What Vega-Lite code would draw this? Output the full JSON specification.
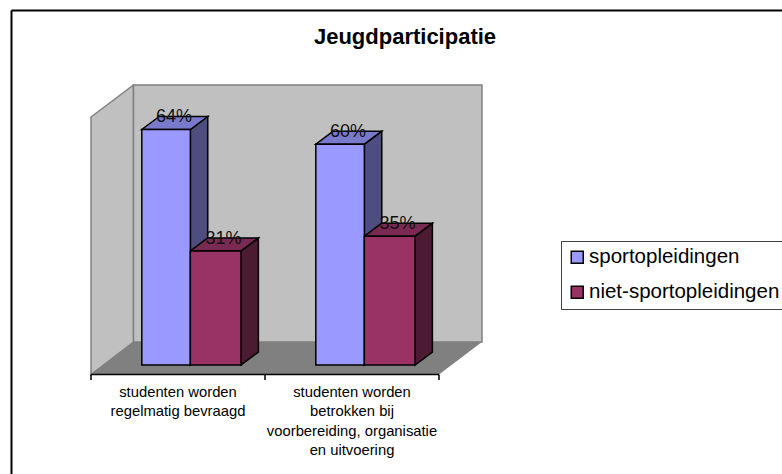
{"$schema":"https://vega.github.io/schema/vega-lite/v6.json","width":782,"height":474,"autosize":"none","padding":0,"background":"white",
"config":{"font":"Liberation Sans","view":{"stroke":null}},
"title":{"text":"Jeugdparticipatie","font":"Liberation Sans","fontSize":22,"fontWeight":"bold","color":"black","baseline":"alphabetic","dx":14,"dy":70},
"datasets":{"bars":[
{"vraag":"studenten worden|regelmatig bevraagd","reeks":"sportopleidingen","waarde":64},
{"vraag":"studenten worden|regelmatig bevraagd","reeks":"niet-sportopleidingen","waarde":31},
{"vraag":"studenten worden|betrokken bij|voorbereiding, organisatie|en uitvoering","reeks":"sportopleidingen","waarde":60},
{"vraag":"studenten worden|betrokken bij|voorbereiding, organisatie|en uitvoering","reeks":"niet-sportopleidingen","waarde":35}]},
"encoding":{"x":{"field":"px","type":"quantitative","axis":null,"scale":{"domain":[-0.52299,3.97126],"nice":false,"zero":false}},"y":{"field":"py","type":"quantitative","axis":null,"scale":{"domain":[-29.62,99.185],"nice":false,"zero":false}}},
"layer":[
{"data":{"values":[{"d":0},{"d":1}]},"transform":[{"calculate":"datum.d*0.2443","as":"px"},{"calculate":"-2.58+datum.d*8.83","as":"py"},{"calculate":"67.39+datum.d*8.7","as":"py2"}],
 "mark":{"type":"area","orient":"vertical","fill":"#C0C0C0","stroke":"#808080","strokeWidth":1.5},"encoding":{"y2":{"field":"py2"}}},
{"data":{"values":[{"d":0},{"d":1}]},"transform":[{"calculate":"0.2443+datum.d*2.0027","as":"px"},{"calculate":"6.25","as":"py"},{"calculate":"76.09","as":"py2"}],
 "mark":{"type":"area","orient":"vertical","fill":"#C0C0C0","stroke":"#808080","strokeWidth":1.5},"encoding":{"y2":{"field":"py2"}}},
{"data":{"values":[{"d":0},{"d":1}]},"transform":[{"calculate":"datum.d*0.2443","as":"px"},{"calculate":"2+datum.d*0.247","as":"px2"},{"calculate":"-2.58+datum.d*8.83","as":"py"}],
 "mark":{"type":"area","orient":"horizontal","fill":"#808080"},"encoding":{"x2":{"field":"px2"}}},
{"data":{"name":"bars"},"transform":[
  {"calculate":"indexof(datum.vraag,'bevraagd')>=0?0:1","as":"idx"},
  {"calculate":"datum.idx+(datum.reeks=='sportopleidingen'?0.292:0.571)","as":"x0"},
  {"calculate":"datum.idx+(datum.reeks=='sportopleidingen'?0.571:0.862)","as":"x1"},
  {"calculate":"[0,1]","as":"d"},{"flatten":["d"]},
  {"calculate":"datum.x1+datum.d*0.1","as":"px"},{"calculate":"datum.waarde+datum.d*3.53","as":"py"},{"calculate":"datum.d*3.53","as":"py2"}],
 "mark":{"type":"area","orient":"vertical","stroke":"black","strokeWidth":1.5},
 "encoding":{"y2":{"field":"py2"},"detail":{"field":"vraag"},"fill":{"field":"reeks","type":"nominal","legend":null,"scale":{"domain":["sportopleidingen","niet-sportopleidingen"],"range":["#4D4D80","#4D1A33"]}}}},
{"data":{"name":"bars"},"transform":[
  {"calculate":"indexof(datum.vraag,'bevraagd')>=0?0:1","as":"idx"},
  {"calculate":"datum.idx+(datum.reeks=='sportopleidingen'?0.292:0.571)","as":"x0"},
  {"calculate":"datum.idx+(datum.reeks=='sportopleidingen'?0.571:0.862)","as":"x1"},
  {"calculate":"[0,1]","as":"d"},{"flatten":["d"]},
  {"calculate":"datum.x0+datum.d*0.1","as":"px"},{"calculate":"datum.x1+datum.d*0.1","as":"px2"},{"calculate":"datum.waarde+datum.d*3.53","as":"py"}],
 "mark":{"type":"area","orient":"horizontal","stroke":"black","strokeWidth":1.5},
 "encoding":{"x2":{"field":"px2"},"detail":{"field":"vraag"},"fill":{"field":"reeks","type":"nominal","legend":null,"scale":{"domain":["sportopleidingen","niet-sportopleidingen"],"range":["#7A7ACC","#7A2952"]}}}},
{"data":{"name":"bars"},"transform":[
  {"calculate":"indexof(datum.vraag,'bevraagd')>=0?0:1","as":"idx"},
  {"calculate":"datum.idx+(datum.reeks=='sportopleidingen'?0.292:0.571)","as":"px"},
  {"calculate":"datum.idx+(datum.reeks=='sportopleidingen'?0.571:0.862)","as":"px2"},
  {"calculate":"datum.waarde","as":"py"},{"calculate":"0","as":"py2"}],
 "mark":{"type":"rect","stroke":"black","strokeWidth":1.5},
 "encoding":{"x2":{"field":"px2"},"y2":{"field":"py2"},"fill":{"field":"reeks","type":"nominal","scale":{"domain":["sportopleidingen","niet-sportopleidingen"],"range":["#9999FF","#993366"]},
   "legend":{"title":null,"orient":"none","legendX":561,"legendY":241,"padding":6,"strokeColor":"#404040","fillColor":"white","symbolType":"square","symbolSize":144,"symbolStrokeColor":"black","symbolStrokeWidth":1.5,"labelFont":"Liberation Sans","labelFontSize":20.5,"labelColor":"black","labelLimit":300,"labelOffset":1.5,"rowPadding":14}}}},
{"data":{"name":"bars"},"transform":[
  {"calculate":"indexof(datum.vraag,'bevraagd')>=0?0:1","as":"idx"},
  {"calculate":"datum.idx+(datum.reeks=='sportopleidingen'?0.4315:0.7165)+0.045","as":"px"},
  {"calculate":"datum.waarde+1.9","as":"py"},
  {"calculate":"format(datum.waarde/100,'.0%')","as":"lab"}],
 "mark":{"type":"text","fontSize":18,"color":"#111111","baseline":"alphabetic","align":"center"},"encoding":{"text":{"field":"lab"}}},
{"data":{"values":[{"t":0},{"t":1},{"t":2}]},"transform":[{"calculate":"datum.t","as":"px"},{"calculate":"-2.58","as":"py"},{"calculate":"-4.1","as":"py2"}],
 "mark":{"type":"rule","color":"black","strokeWidth":1.5},"encoding":{"y2":{"field":"py2"}}},
{"data":{"values":[{"d":0}]},"transform":[{"calculate":"0","as":"px"},{"calculate":"2","as":"px2"},{"calculate":"-2.58","as":"py"}],
 "mark":{"type":"rule","color":"black","strokeWidth":1.5},"encoding":{"x2":{"field":"px2"}}},
{"data":{"name":"bars"},"transform":[{"filter":"datum.reeks=='sportopleidingen'"},
  {"calculate":"(indexof(datum.vraag,'bevraagd')>=0?0:1)+0.5","as":"px"},{"calculate":"-5.45","as":"py"}],
 "mark":{"type":"text","fontSize":14.8,"color":"black","baseline":"top","align":"center","lineBreak":"|","lineHeight":19.3},"encoding":{"text":{"field":"vraag"}}},
{"data":{"values":[{"d":0}]},"transform":[{"calculate":"-0.4569","as":"px"},{"calculate":"96.33","as":"py"},{"calculate":"-29.62","as":"py2"}],
 "mark":{"type":"rule","color":"black","strokeWidth":2},"encoding":{"y2":{"field":"py2"}}},
{"data":{"values":[{"d":0}]},"transform":[{"calculate":"-0.4569","as":"px"},{"calculate":"3.97126","as":"px2"},{"calculate":"96.33","as":"py"}],
 "mark":{"type":"rule","color":"black","strokeWidth":2},"encoding":{"x2":{"field":"px2"}}}
],
"resolve":{"scale":{"fill":"independent"}}}
